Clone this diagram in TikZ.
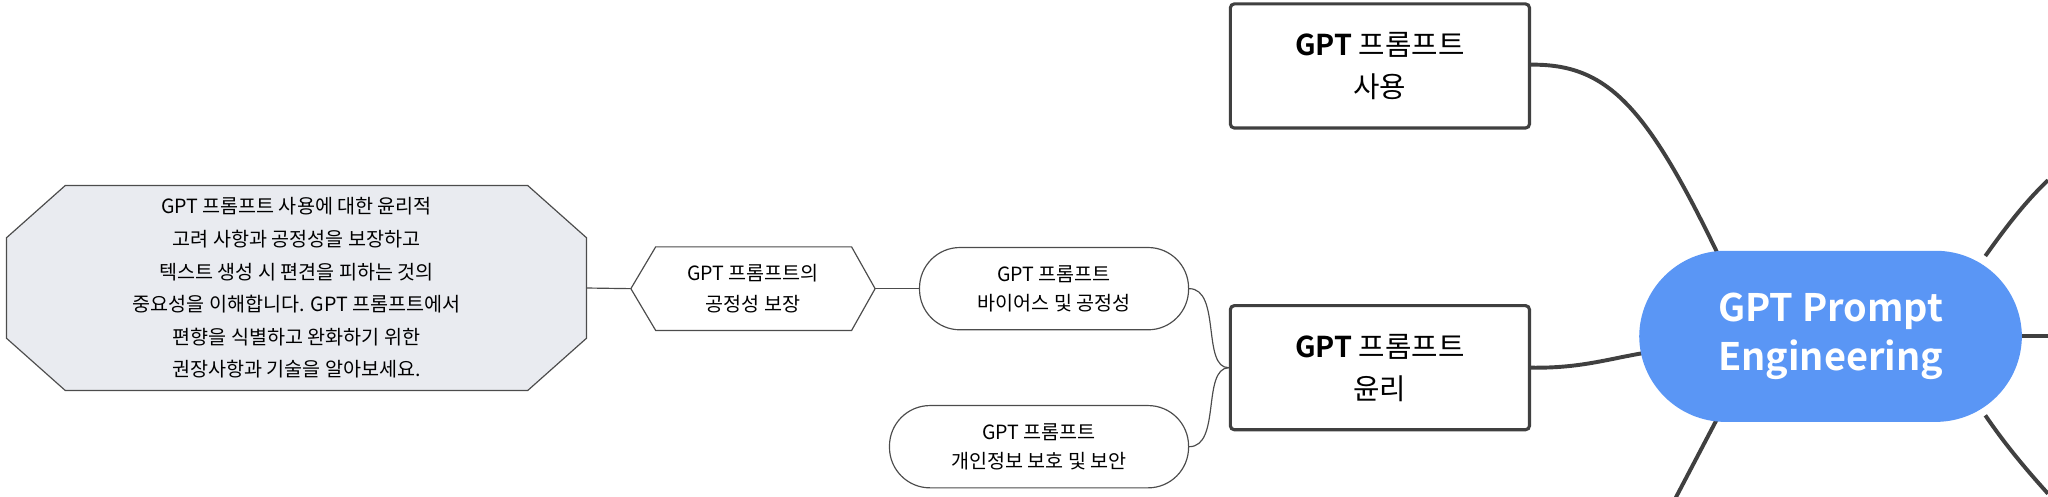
\documentclass[tikz,border=0pt]{standalone}
\usepackage{fontspec}
\setmainfont{Noto Sans CJK KR}
\newfontfamily\krb{Noto Sans CJK KR Bold}
\begin{document}
\begin{tikzpicture}[x=1pt,y=-1pt,
  mainbox/.style={draw=black!75,line width=2.4pt,rounded corners=3pt,minimum width=229pt,minimum height=95pt,align=center,font=\fontsize{22}{32}\selectfont,fill=white},
  thick/.style={draw=black!75,line width=3pt},
  thin/.style={draw=black!70,line width=0.9pt},
  leaf/.style={draw=black!70,line width=0.9pt,rounded corners=31pt,minimum height=63pt,align=center,font=\fontsize{15}{22}\selectfont,inner sep=0pt},
  ghost/.style={minimum width=#1,inner sep=0pt,align=center}
]
\definecolor{cblue}{HTML}{5A96F5}
\definecolor{cgray}{HTML}{E9EBF0}
\useasboundingbox (0,0) rectangle (1568,380.5);
% central connectors
\node[mainbox] (use) at (1056.5,50.5) {{\krb GPT} 프롬프트\\사용};
\node[mainbox] (eth) at (1056.5,281.5) {{\krb GPT} 프롬프트\\윤리};
\coordinate (b1) at (1283,381);
\coordinate (r1) at (1568,138);
\coordinate (r2) at (1568,257);
\coordinate (r3) at (1568,378);
\draw[thick] (use.east) ++(0,-1) .. controls (1230,49) and (1260,80) .. (1315,194);
\draw[thick] (eth.east) .. controls (1210,282) and (1230,275) .. (1260,270);
\draw[thick] (1315,320) -- (b1);
\draw[thick] (1520,196) .. controls (1535,175) and (1550,155) .. (r1);
\draw[thick] (1545,257) -- (r2);
\draw[thick] (1520,318) .. controls (1535,340) and (1550,358) .. (r3);
\node[fill=cblue,rounded corners=66pt,minimum width=293pt,minimum height=131pt,align=center,text=white,font=\krb\fontsize{29}{38}\selectfont] (cen) at (1401.5,257.5) {GPT Prompt\\Engineering};
% octagon
\draw[thin,fill=cgray] (50,142) -- (404,142) -- (449,182) -- (449,259) -- (404,299) -- (50,299) -- (5,259) -- (5,182) -- cycle;
\node[ghost=444pt,minimum height=157pt,font=\fontsize{15}{25}\selectfont] (oct) at (227,220.5) {GPT 프롬프트 사용에 대한 윤리적\\고려 사항과 공정성을 보장하고\\텍스트 생성 시 편견을 피하는 것의\\중요성을 이해합니다. GPT 프롬프트에서\\편향을 식별하고 완화하기 위한\\권장사항과 기술을 알아보세요.};
% hexagon
\draw[thin,fill=white] (502,189) -- (652,189) -- (670,221) -- (652,253) -- (502,253) -- (483,221) -- cycle;
\node[ghost=187pt,minimum height=64pt,font=\fontsize{15}{24}\selectfont] (hex) at (576.5,221) {GPT 프롬프트의\\공정성 보장};
% leaves
\node[leaf,minimum width=206pt] (bias) at (807,221) {GPT 프롬프트\\바이어스 및 공정성};
\node[leaf,minimum width=229pt] (priv) at (795.5,342) {GPT 프롬프트\\개인정보 보호 및 보안};
\draw[thin] (oct.east) -- (hex.west);
\draw[thin] (hex.east) -- (bias.west);
\draw[thin] (bias.east) .. controls (935,221) and (920,282) .. (eth.west);
\draw[thin] (priv.east) .. controls (935,342) and (920,282) .. (eth.west);
\end{tikzpicture}
\end{document}
